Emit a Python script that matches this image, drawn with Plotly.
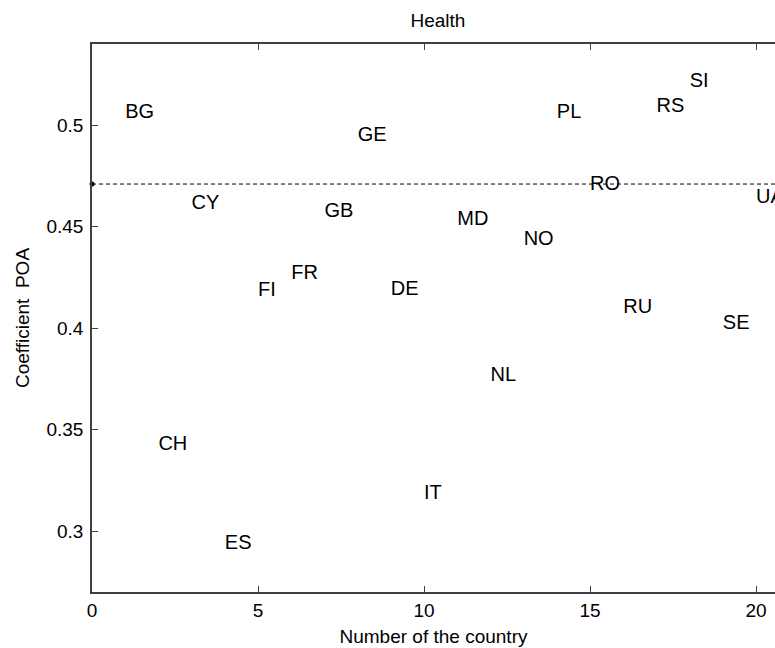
import plotly.graph_objects as go

countries = ["BG", "CH", "CY", "ES", "FI", "FR", "GB", "GE", "DE", "IT",
             "MD", "NL", "NO", "PL", "RO", "RU", "RS", "SI", "SE", "UA"]
numbers = list(range(1, 21))
poa = [0.506, 0.3425, 0.461, 0.2935, 0.4185, 0.4265, 0.457, 0.4945, 0.419, 0.3185,
       0.4535, 0.3765, 0.4435, 0.506, 0.4705, 0.410, 0.509, 0.5215, 0.402, 0.464]
mean_poa = 0.471

x_ticks = [0, 5, 10, 15, 20]
y_ticks = [0.3, 0.35, 0.4, 0.45, 0.5]
y_tick_labels = ["0.3", "0.35", "0.4", "0.45", "0.5"]

font_family = "Liberation Sans, Arial, sans-serif"

fig = go.Figure()
fig.add_trace(go.Scatter(
    x=[0, 21], y=[mean_poa, mean_poa], mode="lines",
    line=dict(color="black", width=1, dash="4px,3px"),
    hoverinfo="skip", showlegend=False, cliponaxis=True))
fig.add_trace(go.Scatter(
    x=[0], y=[mean_poa], mode="markers",
    marker=dict(color="black", size=5),
    showlegend=False, cliponaxis=False))
fig.add_trace(go.Scatter(
    x=numbers, y=poa, mode="text", text=countries,
    textposition="middle right",
    textfont=dict(family=font_family, size=20, color="black"),
    showlegend=False, cliponaxis=False))

axis_common = dict(
    showgrid=False, zeroline=False, showline=True, linecolor="#404040",
    linewidth=1.5, ticks="inside", ticklen=6, tickcolor="#404040",
    tickfont=dict(family=font_family, size=19, color="black"),
)
fig.update_xaxes(range=[0, 20.57], tickvals=x_ticks, mirror="ticks",
                 title=dict(text="Number of the country", standoff=10,
                            font=dict(family=font_family, size=19, color="black")),
                 **axis_common)
fig.update_yaxes(range=[0.27, 0.54], tickvals=y_ticks, ticktext=y_tick_labels,
                 mirror=False, ticklabelstandoff=3,
                 title=dict(text="Coefficient  POA", standoff=12,
                            font=dict(family=font_family, size=19, color="black")),
                 **axis_common)
fig.update_layout(
    width=775, height=648,
    margin=dict(l=92, r=0, t=44, b=56),
    paper_bgcolor="white", plot_bgcolor="white",
    title=dict(text="Health", x=0.565, xanchor="center", y=0.969, yanchor="middle",
               font=dict(family=font_family, size=19, color="black")),
)
fig.write_html("out.html", config={"displayModeBar": False},
               post_script="document.body.style.margin='0';")
